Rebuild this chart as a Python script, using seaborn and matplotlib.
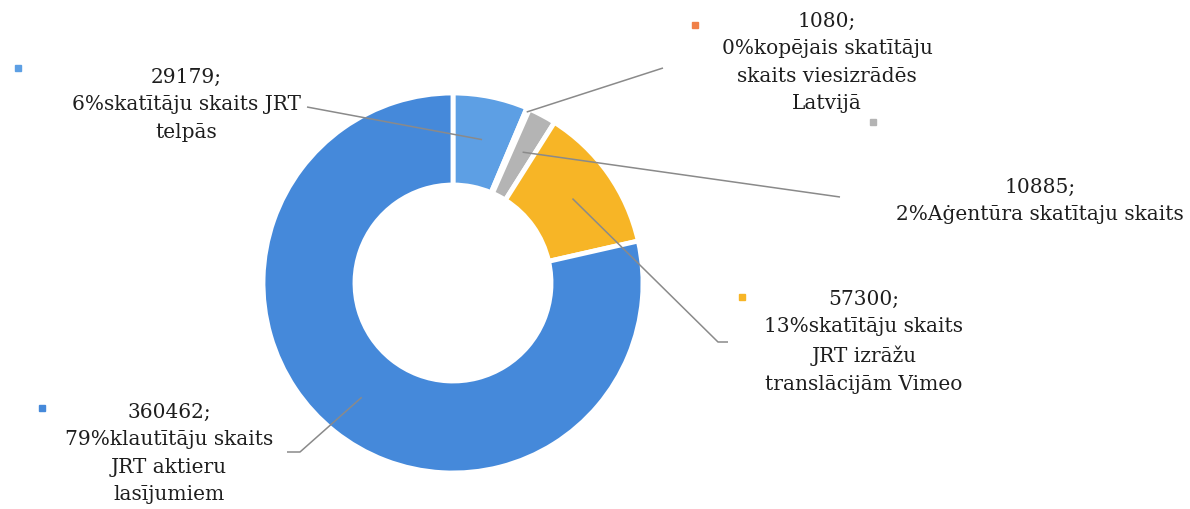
import numpy as np
import matplotlib
matplotlib.use("Agg")
import matplotlib.pyplot as plt
import seaborn as sns

values = [29179, 1080, 10885, 57300, 360462]
percents = ["6%", "0%", "2%", "13%", "79%"]
names = [
    "skatītāju skaits JRT\ntelpās",
    "kopējais skatītāju\nskaits viesizrādēs\nLatvijā",
    "Aġentūra skatītaju skaits",
    "skatītāju skaits\nJRT izrāžu\ntranslācijām Vimeo",
    "klautītāju skaits\nJRT aktieru\nlasījumiem",
]
colors = ["#5d9fe4", "#f08048", "#b4b4b4", "#f7b526", "#4589da"]

sns.set_theme(style="white")
plt.rcParams["font.family"] = ["DejaVu Serif", "DejaVu Sans"]

W, H = 1190, 509
fig = plt.figure(figsize=(W / 100, H / 100), dpi=100)
ax = fig.add_axes([0, 0, 1, 1])

cx, cy = 453, H - 283
R = 190
ring = 92
wedges, _ = ax.pie(values, colors=colors, startangle=90, counterclock=False,
                   radius=R, center=(cx, cy), frame=True,
                   wedgeprops=dict(width=ring, edgecolor="white", linewidth=3.5))
ax.set_xlim(0, W)
ax.set_ylim(0, H)
ax.set_aspect("equal")
ax.axis("off")

# label layout (pixel coords, y from top)
text_pos = [(186, 78), (827, 22), (1040, 188), (864, 300), (169, 413)]
line_ends = [
    [(307, 107)],
    [(663, 68)],
    [(840, 197)],
    [(718, 342), (728, 342)],
    [(300, 452), (287, 452)],
]
anchor_r = [0.77, 0.98, 0.78, 0.77, 0.77]
key_pos = [(18, 68), (695, 25), (873, 122), (742, 297), (42, 408)]

for i, w in enumerate(wedges):
    mid = np.deg2rad((w.theta1 + w.theta2) / 2)
    ax_, ay_ = cx + anchor_r[i] * R * np.cos(mid), cy + anchor_r[i] * R * np.sin(mid)
    pts = [(ax_, ay_)] + [(x, H - y) for x, y in line_ends[i]]
    xs, ys = zip(*pts)
    ax.plot(xs, ys, color="#8a8a8a", lw=1.1, solid_capstyle="butt", zorder=5)
    tx, ty = text_pos[i]
    ax.text(tx, H - ty + 10, f"{values[i]};\n{percents[i]}{names[i]}", ha="center", va="top",
            fontsize=14.5, color="#1e1e1e", linespacing=1.56, zorder=6)
    kx, ky = key_pos[i]
    ax.plot([kx], [H - ky], marker="s", markersize=5, color=colors[i], zorder=6)

fig.savefig("out.png", dpi=100, facecolor="white")
